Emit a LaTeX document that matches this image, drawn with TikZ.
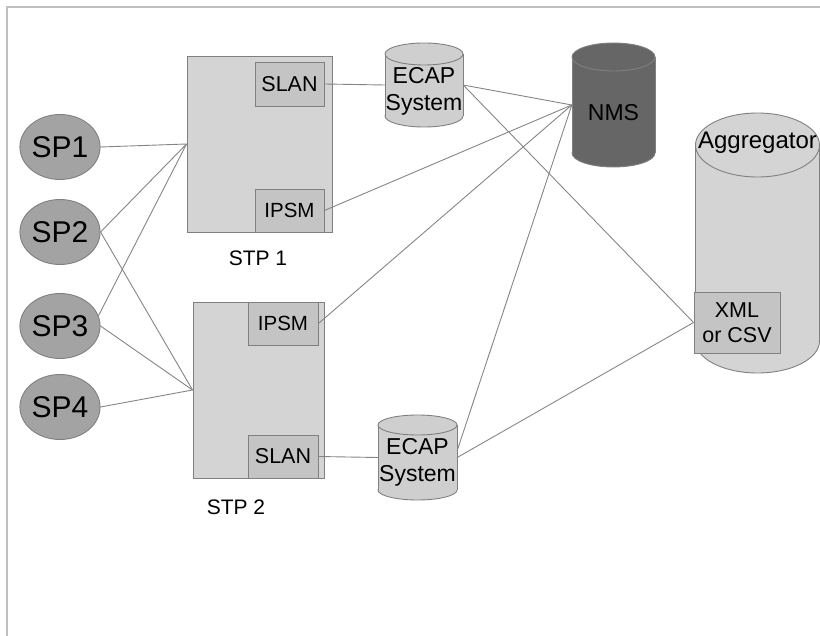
\documentclass[tikz,border=0pt]{standalone}
\usepackage{fontspec}
\setmainfont{Liberation Sans}
\usetikzlibrary{shapes.geometric}
\definecolor{edgegray}{gray}{0.50}
\definecolor{wire}{gray}{0.52}
\definecolor{framegray}{gray}{0.75}
\definecolor{spgray}{gray}{0.64}
\definecolor{boxgray}{gray}{0.83}
\definecolor{cardgray}{gray}{0.77}
\definecolor{drumgray}{gray}{0.81}
\definecolor{nmsgray}{gray}{0.40}
% cylinder: centre x, top y, bottom y, x radius, y radius of the caps, fill
\newcommand{\drum}[6]{%
  \filldraw[fill=#6,draw=edgegray,line width=0.9pt] (#1,#3-#5) ellipse [x radius=#4, y radius=#5];
  \fill[#6] (#1-#4,#2+#5) rectangle (#1+#4,#3-#5);
  \draw[edgegray,line width=0.9pt] (#1-#4,#2+#5) -- (#1-#4,#3-#5) (#1+#4,#2+#5) -- (#1+#4,#3-#5);
  \filldraw[fill=#6,draw=edgegray,line width=0.9pt] (#1,#2+#5) ellipse [x radius=#4, y radius=#5];
}
\begin{document}
\begin{tikzpicture}[x=1pt,y=-1pt,
  sp/.style={ellipse,draw=edgegray,line width=0.9pt,fill=spgray,minimum width=76pt,minimum height=65pt,inner sep=0pt,font=\fontsize{30}{32}\selectfont},
  stp/.style={rectangle,draw=edgegray,line width=0.9pt,fill=boxgray,inner sep=0pt},
  card/.style={rectangle,draw=edgegray,line width=0.9pt,fill=cardgray,inner sep=0pt,minimum width=69pt,minimum height=44pt,font=\fontsize{20.5}{22}\selectfont},
  txt/.style={font=\fontsize{23}{27}\selectfont,align=center,inner sep=0pt},
  drumnode/.style={rectangle,inner sep=0pt}]
  \useasboundingbox (0,0) rectangle (820,636);
  \draw[framegray,line width=1.5pt] (7,636) -- (7,7) -- (820,7);

  % signalling points
  \node[sp] (spA) at (60,147) {SP1};
  \node[sp] (spB) at (60,232) {SP2};
  \node[sp] (spC) at (60,326) {SP3};
  \node[sp] (spD) at (60,407) {SP4};

  % transfer points
  \node[stp,minimum width=145pt,minimum height=176pt] (stpA) at (259.5,144) {};
  \node[card,font=\fontsize{21.5}{22}\selectfont] (slanA) at (289.5,84) {SLAN};
  \node[card,minimum height=43pt] (ipsmA) at (289.5,210.5) {IPSM};
  \node[txt,font=\fontsize{21}{24}\selectfont] (stpAlbl) at (258,258) {STP 1};

  \node[stp,minimum width=131pt,minimum height=176pt] (stpB) at (258.5,390) {};
  \node[card,minimum width=70pt,minimum height=43pt] (ipsmB) at (283,323.5) {IPSM};
  \node[card,minimum width=70pt,minimum height=43pt,font=\fontsize{21.5}{22}\selectfont] (slanB) at (283,456.5) {SLAN};
  \node[txt,font=\fontsize{21}{24}\selectfont] (stpBlbl) at (236,507) {STP 2};

  % databases
  \drum{424}{43}{127}{39}{11}{drumgray}
  \node[drumnode,minimum width=78pt,minimum height=84pt,
    label={[txt,yshift=-6.5pt]center:{ECAP\\System}}] (ecapA) at (424,85) {};
  \drum{417.5}{415}{500}{39.5}{10}{drumgray}
  \node[drumnode,minimum width=79pt,minimum height=85pt,
    label={[txt,yshift=-4.5pt]center:{ECAP\\System}}] (ecapB) at (417.5,457.5) {};
  \drum{613.5}{43}{167}{41.5}{14}{nmsgray}
  \node[drumnode,minimum width=83pt,minimum height=124pt,
    label={[txt,font=\fontsize{23}{26}\selectfont,yshift=-8pt]center:NMS}] (nms) at (613.5,105) {};
  \drum{757.5}{113}{373}{62}{32}{boxgray}
  \node[drumnode,minimum width=124pt,minimum height=260pt,
    label={[txt,font=\fontsize{24}{26}\selectfont,yshift=100pt]center:Aggregator}] (agg) at (757.5,243) {};
  \node[card,minimum width=86pt,minimum height=61pt,font=\fontsize{21.5}{25}\selectfont,align=center] (xml) at (737,322.5) {XML\\or CSV};

  \path[draw=wire,line width=0.9pt]
    (spA.east) edge (stpA.west)
    (spB.east) edge (stpA.west)
    (spC.15)   edge (stpA.west)
    (spB.east) edge (stpB.west)
    (spC.east) edge (stpB.west)
    (spD.east) edge (stpB.west)
    (slanA.east) edge (ecapA.west)
    (slanB.east) edge (ecapB.west)
    (ipsmA.east) edge (nms.west)
    (ipsmB.east) edge (nms.west)
    (ecapA.east) edge (nms.west)
    (ecapB.10)   edge (nms.west)
    (ecapA.east) edge (xml.west)
    (ecapB.east) edge (xml.west);
\end{tikzpicture}
\end{document}
